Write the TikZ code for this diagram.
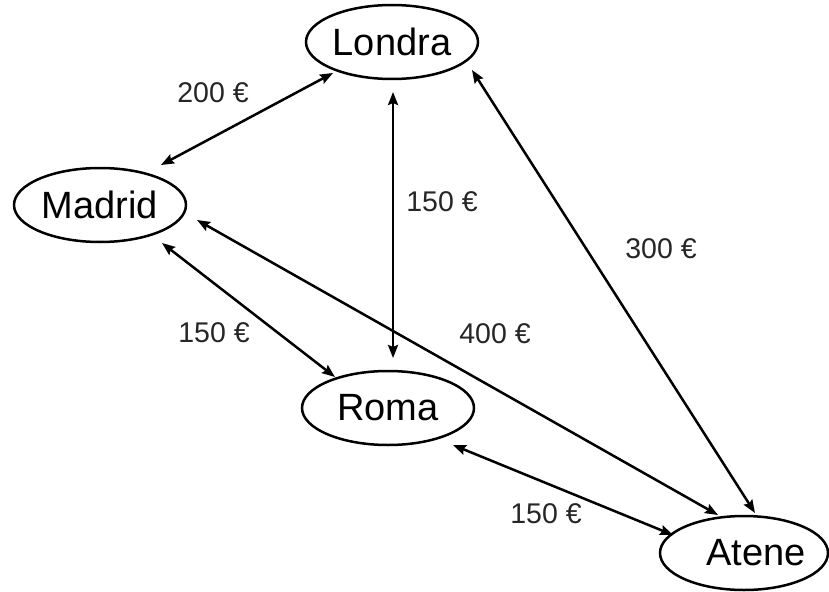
\documentclass[tikz,border=0pt]{standalone}
\usepackage{fontspec}
\setmainfont{Liberation Sans}
\usetikzlibrary{arrows.meta,shapes.geometric}
\begin{document}
\begin{tikzpicture}[x=1pt,y=-1pt,
  city/.style={draw=black, line width=2.5pt, ellipse, minimum width=172pt, minimum height=74pt, inner sep=0pt, font=\fontsize{38}{40}\selectfont},
  citytext/.style={inner sep=0pt, font=\fontsize{38}{40}\selectfont},
  biarrow/.style={line width=2.5pt, {Stealth[length=13pt,width=10pt,inset=2pt]}-{Stealth[length=13pt,width=10pt,inset=2pt]}},
  price/.style={inner sep=0pt, font=\fontsize{28.5}{30}\selectfont, text=black!85}]
\useasboundingbox (0,0) rectangle (829,591);
\node[city] (Londra) at (392,42) {Londra};
\node[city] (Madrid) at (100,205) {Madrid};
\node[city] (Roma) at (388,408) {Roma};
\node[city, minimum width=168pt, label={[citytext, xshift=12pt]center:Atene}] (Atene) at (744,553) {};
\draw[biarrow] ([shift={(61,-40)}]Madrid.center) -- ([shift={(-59,31)}]Londra.center);
\draw[biarrow] ([shift={(1,50)}]Londra.center) -- ([shift={(5,-50)}]Roma.center);
\draw[biarrow] ([shift={(80,28)}]Londra.center) -- ([shift={(11,-40)}]Atene.center);
\draw[biarrow] ([shift={(97,15)}]Madrid.center) -- ([shift={(-26,-38)}]Atene.center);
\draw[biarrow] ([shift={(62,38)}]Madrid.center) -- ([shift={(-53,-31)}]Roma.center);
\draw[biarrow] ([shift={(65,37)}]Roma.center) -- ([shift={(-71,-18)}]Atene.center);
\node[price] (p1) at (213,93) {200 €};
\node[price] (p2) at (442,202) {150 €};
\node[price] (p3) at (661,249) {300 €};
\node[price] (p4) at (214,333) {150 €};
\node[price] (p5) at (495,334) {400 €};
\node[price] (p6) at (546,514) {150 €};
\end{tikzpicture}
\end{document}
